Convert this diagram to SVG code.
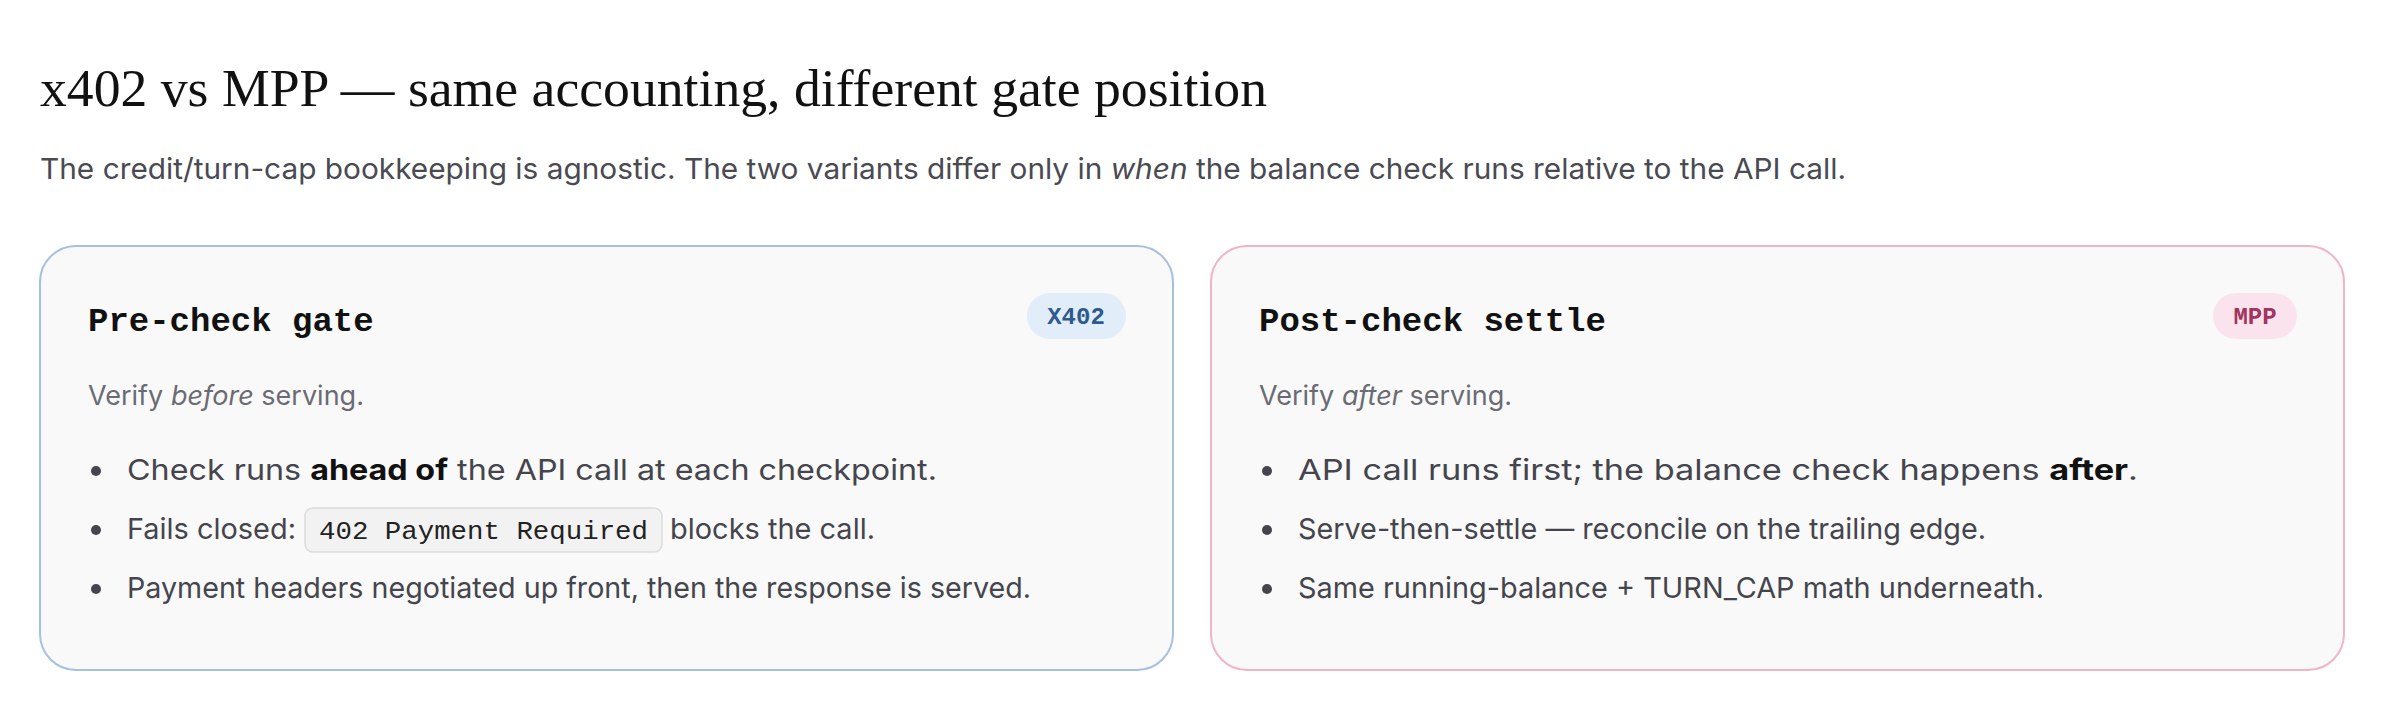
<svg xmlns="http://www.w3.org/2000/svg" width="2382" height="728" viewBox="0 0 2382 728">
<style>
.title{font-family:"Liberation Serif",serif;font-size:52px;fill:#111}
.sub{font-family:Inter,"Liberation Sans",sans-serif;font-size:29px;fill:#4a4a52}
.ct{font-family:"Liberation Mono",monospace;font-weight:bold;font-size:34px;fill:#111}
.badge{font-family:"Liberation Mono",monospace;font-weight:bold;font-size:24px;text-anchor:middle}
.lead{font-family:Inter,"Liberation Sans",sans-serif;font-size:27px;fill:#6b6b73}
.b{font-family:Inter,"Liberation Sans",sans-serif;font-size:29px;fill:#45454d}
.strong{font-weight:bold;fill:#111}
.code{font-family:"Liberation Mono",monospace;font-size:26px;fill:#222}
.card{fill:#f9f9f9;stroke-width:2}
</style>
<rect width="2382" height="728" fill="#fff"/>
<text class="title" x="40" y="106" textLength="1227" lengthAdjust="spacingAndGlyphs">x402 vs MPP — same accounting, different gate position</text>
<text class="sub" x="40" y="179" textLength="1806" lengthAdjust="spacingAndGlyphs">The credit/turn-cap bookkeeping is agnostic. The two variants differ only in <tspan font-style="italic">when</tspan> the balance check runs relative to the API call.</text>
<g id="card-x402">
<rect class="card" x="40" y="246" width="1133" height="424" rx="36" stroke="#a6c0e0"/>
<text class="ct" x="88" y="331">Pre-check gate</text>
<rect x="1027" y="293" width="99" height="46" rx="23" fill="#e1edf8"/>
<text class="badge" x="1076" y="324" fill="#2f5a8f">X402</text>
<text class="lead" x="88" y="405">Verify <tspan font-style="italic">before</tspan> serving.</text>
<circle cx="96" cy="471" r="5" fill="#45454d"/>
<text class="b" x="127" y="480" textLength="810" lengthAdjust="spacingAndGlyphs">Check runs <tspan class="strong">ahead of</tspan> the API call at each checkpoint.</text>
<circle cx="96" cy="530" r="5" fill="#45454d"/>
<text class="b" x="127" y="539" textLength="169" lengthAdjust="spacingAndGlyphs">Fails closed:</text>
<rect x="305" y="508" width="357" height="44" rx="8" fill="#f2f2f2" stroke="#dcdcdc" stroke-width="1.5"/>
<text class="code" x="319" y="539" textLength="329" lengthAdjust="spacingAndGlyphs">402 Payment Required</text>
<text class="b" x="670" y="539" textLength="205" lengthAdjust="spacingAndGlyphs">blocks the call.</text>
<circle cx="96" cy="589" r="5" fill="#45454d"/>
<text class="b" x="127" y="598" textLength="904" lengthAdjust="spacingAndGlyphs">Payment headers negotiated up front, then the response is served.</text>
</g>
<g id="card-mpp">
<rect class="card" x="1211" y="246" width="1133" height="424" rx="36" stroke="#f0b4c8"/>
<text class="ct" x="1259" y="331">Post-check settle</text>
<rect x="2213" y="293" width="84" height="46" rx="23" fill="#fbe3ee"/>
<text class="badge" x="2255" y="324" fill="#a0365e">MPP</text>
<text class="lead" x="1259" y="405">Verify <tspan font-style="italic">after</tspan> serving.</text>
<circle cx="1267" cy="471" r="5" fill="#45454d"/>
<text class="b" x="1298" y="480" textLength="840" lengthAdjust="spacingAndGlyphs">API call runs first; the balance check happens <tspan class="strong">after</tspan>.</text>
<circle cx="1267" cy="530" r="5" fill="#45454d"/>
<text class="b" x="1298" y="539" textLength="688" lengthAdjust="spacingAndGlyphs">Serve-then-settle — reconcile on the trailing edge.</text>
<circle cx="1267" cy="589" r="5" fill="#45454d"/>
<text class="b" x="1298" y="598" textLength="746" lengthAdjust="spacingAndGlyphs">Same running-balance + TURN_CAP math underneath.</text>
</g>
<g id="connectors"/>
</svg>
